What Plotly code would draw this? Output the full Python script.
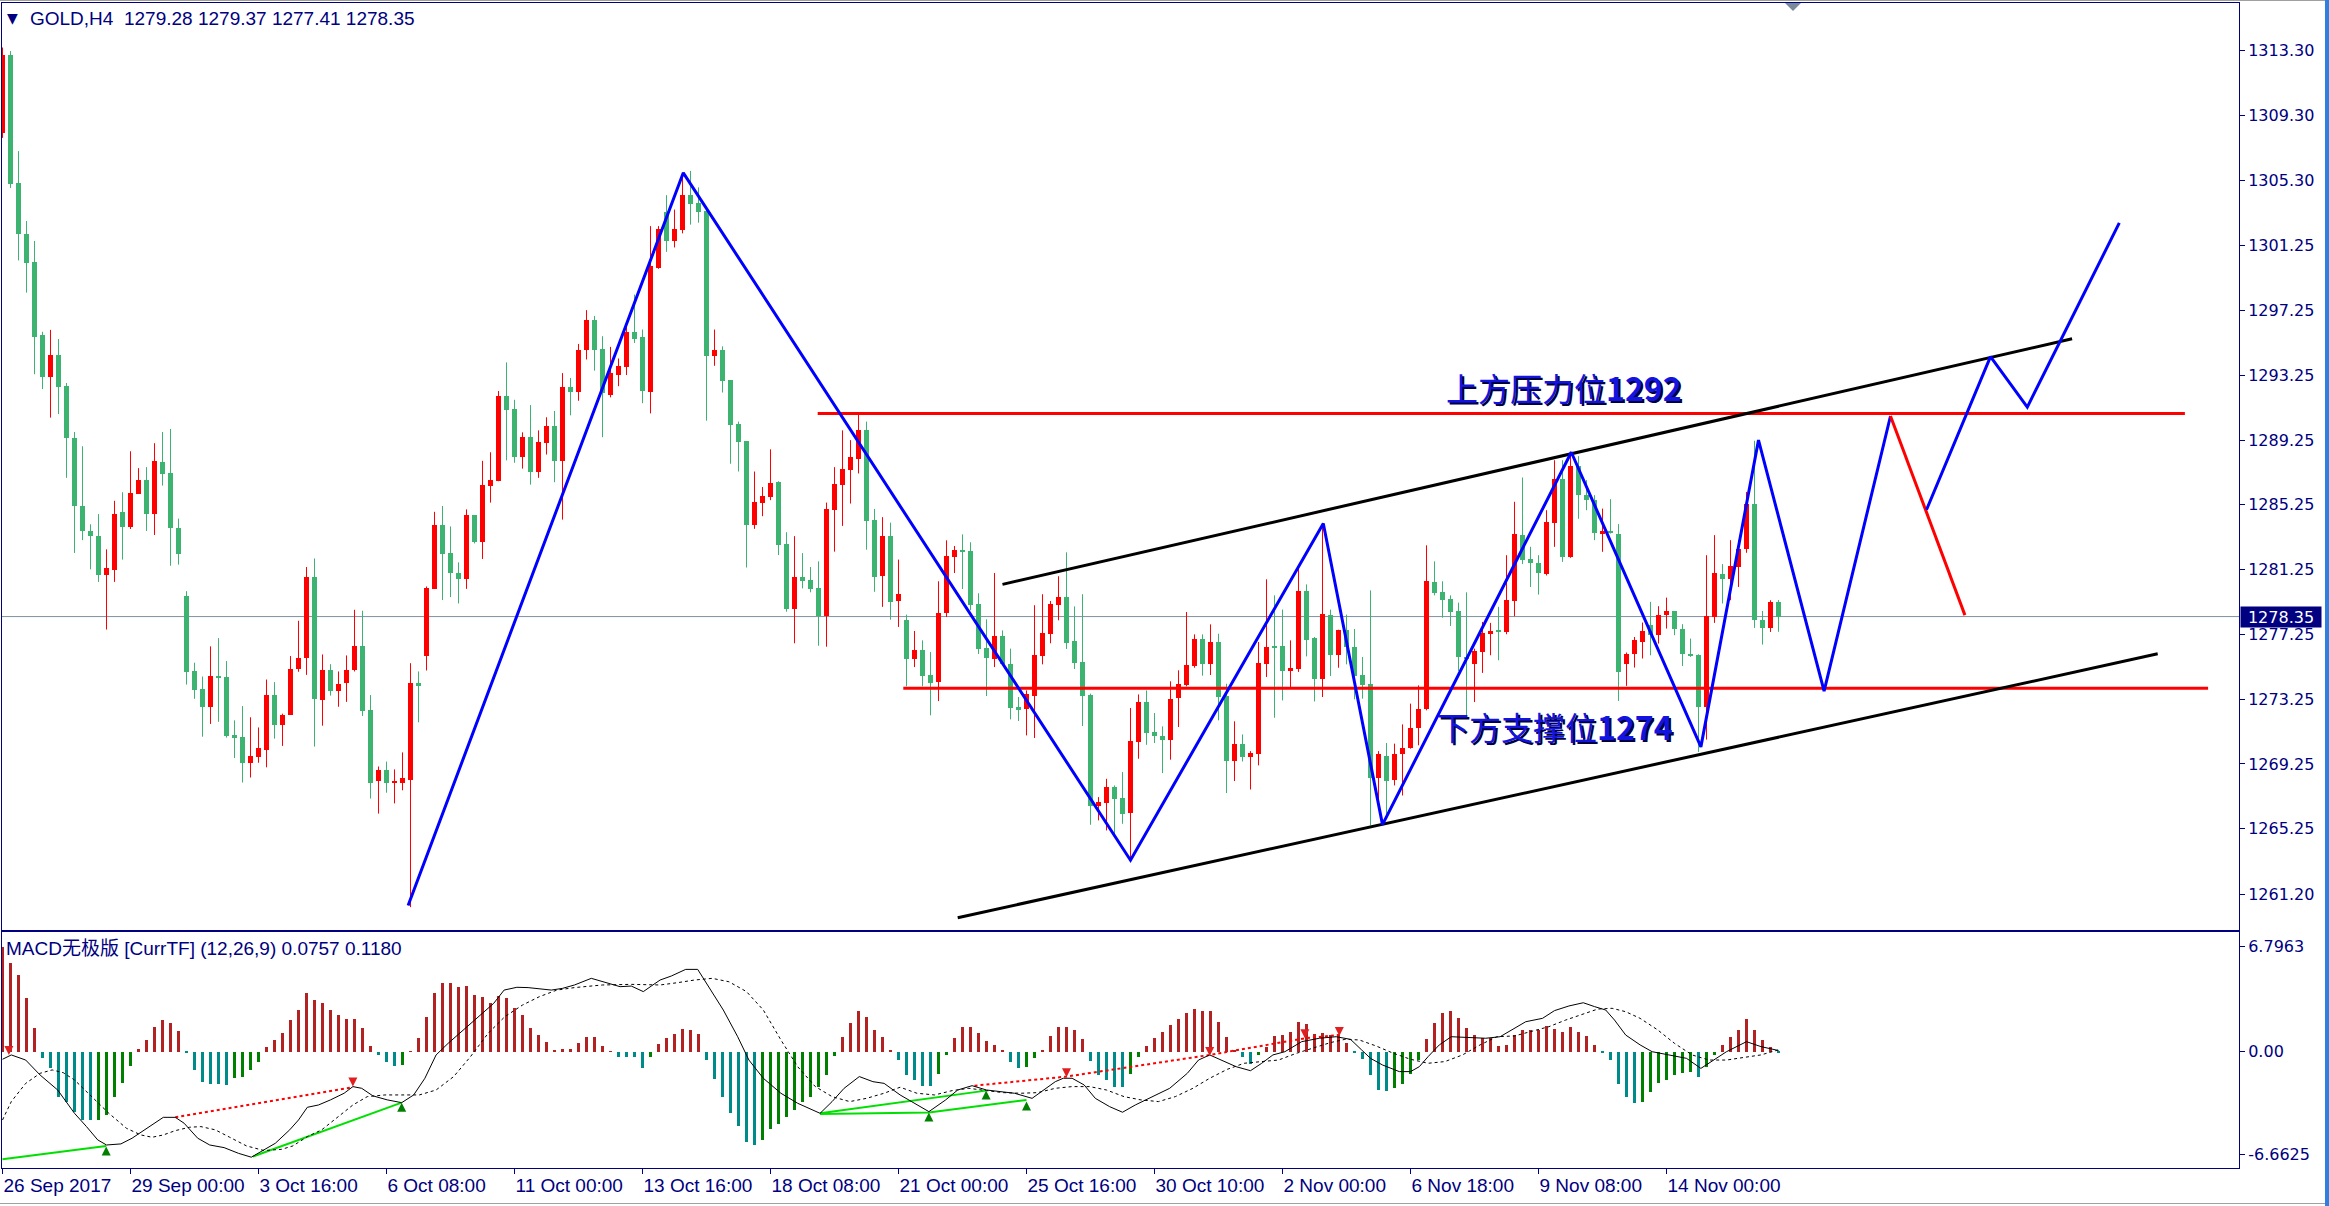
import plotly.graph_objects as go

# ---------------- data ----------------
bar_index = list(range(223))

opens = [
    1308.20, 1313.02, 1305.14, 1301.99, 1300.25, 1295.75, 1293.13, 1294.52, 1292.59, 1289.38,
    1285.21, 1283.64, 1283.32, 1280.93, 1281.24, 1284.81, 1283.86, 1285.94, 1286.79, 1284.71,
    1287.89, 1287.20, 1283.83, 1279.60, 1274.97, 1273.87, 1272.79, 1274.59, 1274.59, 1271.03,
    1270.90, 1269.32, 1269.70, 1270.11, 1273.49, 1271.66, 1272.29, 1275.12, 1275.77, 1280.78,
    1273.20, 1275.02, 1273.77, 1274.24, 1275.02, 1276.52, 1272.57, 1268.19, 1268.85, 1268.07,
    1268.07, 1268.28, 1274.22, 1275.92, 1280.06, 1283.98, 1282.27, 1281.07, 1280.69, 1284.61,
    1282.96, 1286.44, 1286.71, 1291.95, 1291.17, 1288.18, 1289.43, 1287.25, 1289.07, 1290.12,
    1287.97, 1292.52, 1292.25, 1294.80, 1296.65, 1294.86, 1292.04, 1293.30, 1293.78, 1295.93,
    1295.60, 1292.25, 1299.89, 1303.34, 1301.57, 1302.23, 1304.41, 1303.87, 1303.43, 1294.47,
    1294.80, 1292.94, 1290.24, 1289.19, 1284.01, 1285.39, 1285.72, 1286.65, 1282.81, 1278.80,
    1280.78, 1280.60, 1280.09, 1278.41, 1284.94, 1286.50, 1287.43, 1288.09, 1289.85, 1284.31,
    1280.87, 1283.33, 1279.31, 1278.12, 1275.73, 1276.26, 1274.72, 1274.31, 1278.57, 1282.03,
    1282.44, 1282.38, 1279.11, 1276.39, 1275.75, 1277.13, 1275.40, 1272.74, 1272.64, 1273.44,
    1275.91, 1277.25, 1279.07, 1279.54, 1276.82, 1275.52, 1273.48, 1266.64, 1266.83, 1267.82,
    1267.14, 1266.21, 1270.60, 1273.05, 1271.20, 1270.95, 1270.74, 1273.32, 1274.10, 1275.28,
    1276.94, 1275.42, 1276.76, 1273.42, 1269.43, 1270.45, 1269.67, 1269.84, 1275.44, 1276.45,
    1276.51, 1275.01, 1275.11, 1279.91, 1277.03, 1274.49, 1278.47, 1275.96, 1277.50, 1276.47,
    1274.72, 1274.16, 1268.37, 1269.71, 1268.23, 1269.88, 1270.25, 1271.49, 1272.66, 1280.47,
    1279.85, 1279.42, 1278.67, 1275.85, 1275.45, 1276.17, 1277.30, 1277.47, 1277.40, 1279.32,
    1283.42, 1281.93, 1281.69, 1281.01, 1284.14, 1286.84, 1282.04, 1287.66, 1285.89, 1285.58,
    1283.48, 1283.62, 1283.48, 1275.45, 1276.02, 1276.79, 1277.81, 1277.20, 1278.47, 1278.68,
    1277.59, 1276.06, 1275.96, 1272.77, 1278.33, 1281.01, 1280.70, 1281.42, 1282.55, 1285.29,
    1278.16, 1277.65, 1279.28,
]
highs = [
    1313.50, 1313.28, 1307.10, 1302.78, 1301.55, 1295.94, 1296.06, 1295.49, 1292.78, 1289.75,
    1288.87, 1284.05, 1284.68, 1282.50, 1285.50, 1286.03, 1288.56, 1287.52, 1287.58, 1289.06,
    1289.75, 1289.94, 1284.40, 1279.92, 1275.50, 1274.65, 1276.51, 1277.02, 1275.60, 1271.94,
    1272.82, 1272.13, 1271.50, 1274.46, 1274.30, 1272.35, 1275.91, 1278.09, 1281.41, 1281.94,
    1276.01, 1275.41, 1274.96, 1275.95, 1278.77, 1278.71, 1273.50, 1269.09, 1269.39, 1268.91,
    1269.96, 1275.47, 1274.96, 1280.21, 1284.82, 1285.18, 1283.92, 1281.70, 1284.97, 1284.61,
    1287.97, 1288.50, 1292.28, 1294.05, 1291.74, 1289.73, 1291.41, 1289.85, 1290.66, 1291.05,
    1293.39, 1293.09, 1295.19, 1297.28, 1296.92, 1295.67, 1295.01, 1294.29, 1296.23, 1298.24,
    1296.08, 1302.47, 1302.47, 1304.38, 1303.49, 1305.76, 1305.88, 1304.86, 1303.58, 1296.08,
    1295.04, 1292.94, 1290.39, 1289.19, 1287.31, 1286.35, 1288.68, 1286.71, 1283.56, 1283.32,
    1282.27, 1281.41, 1281.76, 1285.39, 1287.58, 1289.85, 1289.25, 1290.84, 1290.39, 1285.00,
    1284.49, 1284.15, 1281.87, 1278.47, 1277.46, 1276.88, 1276.16, 1280.53, 1283.06, 1282.71,
    1283.43, 1282.94, 1279.79, 1278.18, 1281.04, 1277.50, 1276.37, 1273.38, 1273.79, 1279.05,
    1279.73, 1279.31, 1280.84, 1282.32, 1278.98, 1279.73, 1273.59, 1267.20, 1268.33, 1267.92,
    1268.75, 1272.70, 1273.54, 1273.79, 1272.39, 1271.57, 1274.35, 1275.03, 1278.63, 1277.25,
    1277.25, 1277.87, 1277.29, 1274.20, 1271.88, 1271.07, 1270.04, 1276.78, 1280.65, 1279.66,
    1278.78, 1276.88, 1281.35, 1280.34, 1277.09, 1284.09, 1278.78, 1277.54, 1278.47, 1277.58,
    1275.85, 1279.97, 1270.04, 1270.54, 1270.50, 1271.69, 1272.97, 1274.10, 1282.75, 1281.76,
    1280.53, 1279.66, 1279.21, 1279.85, 1276.37, 1278.02, 1277.96, 1278.95, 1282.14, 1285.44,
    1286.94, 1282.66, 1282.14, 1284.92, 1288.01, 1288.01, 1288.53, 1288.26, 1286.78, 1285.85,
    1285.02, 1285.60, 1284.06, 1276.13, 1277.09, 1277.98, 1279.26, 1278.99, 1279.52, 1278.68,
    1277.88, 1276.99, 1276.02, 1282.14, 1283.38, 1281.59, 1283.07, 1283.07, 1286.05, 1289.21,
    1278.70, 1279.36, 1279.37,
]
lows = [
    1307.92, 1304.83, 1300.35, 1298.36, 1293.32, 1292.40, 1290.64, 1290.86, 1286.92, 1282.28,
    1283.07, 1281.27, 1280.49, 1277.55, 1280.49, 1281.87, 1283.76, 1285.94, 1283.64, 1283.39,
    1286.44, 1281.49, 1281.56, 1274.15, 1273.27, 1270.93, 1271.72, 1271.85, 1270.87, 1269.61,
    1268.10, 1268.41, 1269.32, 1269.04, 1270.81, 1270.36, 1272.29, 1274.94, 1274.75, 1270.32,
    1271.61, 1273.47, 1272.78, 1273.08, 1274.96, 1272.21, 1267.11, 1266.18, 1267.47, 1266.81,
    1267.62, 1260.40, 1271.82, 1275.02, 1280.06, 1279.37, 1279.55, 1279.16, 1280.06, 1282.87,
    1281.91, 1285.39, 1286.71, 1288.00, 1287.85, 1287.49, 1286.50, 1286.92, 1288.36, 1286.65,
    1284.34, 1290.78, 1291.68, 1294.23, 1293.54, 1289.43, 1291.89, 1292.58, 1293.27, 1295.25,
    1291.53, 1290.90, 1299.83, 1300.88, 1301.15, 1302.02, 1302.56, 1302.68, 1290.45, 1293.84,
    1292.19, 1287.79, 1287.31, 1281.38, 1283.77, 1284.55, 1285.54, 1282.15, 1278.65, 1276.70,
    1280.09, 1279.85, 1276.55, 1276.49, 1282.36, 1283.95, 1285.33, 1287.19, 1282.48, 1279.88,
    1278.95, 1278.16, 1277.71, 1274.04, 1275.23, 1274.04, 1272.25, 1273.13, 1278.32, 1281.04,
    1280.05, 1278.74, 1276.04, 1273.44, 1275.23, 1275.34, 1272.00, 1271.90, 1271.01, 1270.85,
    1275.40, 1276.70, 1278.12, 1276.35, 1275.11, 1271.59, 1265.49, 1265.76, 1265.14, 1264.83,
    1265.55, 1263.29, 1269.57, 1270.43, 1270.54, 1268.68, 1269.51, 1271.53, 1274.04, 1275.19,
    1274.70, 1274.74, 1271.94, 1267.45, 1268.19, 1269.40, 1267.67, 1269.16, 1274.62, 1272.10,
    1273.17, 1274.00, 1274.93, 1275.89, 1273.11, 1273.38, 1274.68, 1275.19, 1275.40, 1273.24,
    1273.28, 1265.45, 1267.04, 1266.07, 1267.92, 1267.30, 1270.19, 1270.40, 1272.56, 1279.66,
    1278.28, 1277.77, 1274.99, 1272.14, 1273.07, 1274.87, 1275.96, 1275.65, 1277.26, 1278.37,
    1281.59, 1280.18, 1279.71, 1280.89, 1282.66, 1281.73, 1281.98, 1284.39, 1284.92, 1283.07,
    1282.35, 1283.48, 1273.14, 1274.07, 1275.20, 1275.76, 1275.96, 1276.68, 1277.61, 1277.20,
    1275.30, 1275.86, 1269.99, 1270.75, 1277.96, 1279.16, 1279.36, 1280.18, 1282.29, 1277.65,
    1276.62, 1277.40, 1277.41,
]
closes = [
    1313.02, 1305.08, 1301.96, 1300.16, 1295.65, 1293.13, 1294.52, 1292.56, 1289.35, 1285.21,
    1283.61, 1283.35, 1280.93, 1281.34, 1284.71, 1283.86, 1285.97, 1286.79, 1284.71, 1287.96,
    1287.17, 1283.80, 1282.19, 1274.94, 1273.83, 1272.79, 1274.65, 1274.56, 1270.99, 1270.87,
    1269.32, 1269.73, 1270.21, 1273.49, 1271.66, 1272.26, 1275.09, 1275.81, 1280.78, 1273.26,
    1275.02, 1273.77, 1274.21, 1275.08, 1276.52, 1272.51, 1268.10, 1268.85, 1268.07, 1268.13,
    1268.40, 1274.22, 1274.04, 1280.09, 1283.98, 1282.21, 1281.04, 1280.69, 1284.61, 1282.93,
    1286.50, 1286.77, 1291.95, 1291.14, 1288.18, 1289.43, 1287.28, 1289.13, 1290.12, 1287.97,
    1292.52, 1292.25, 1294.80, 1296.65, 1294.83, 1292.13, 1293.39, 1293.81, 1295.93, 1295.48,
    1292.31, 1299.98, 1302.29, 1301.57, 1302.29, 1304.38, 1303.81, 1303.37, 1294.47, 1294.80,
    1292.91, 1290.21, 1289.16, 1284.01, 1285.42, 1285.81, 1286.59, 1282.75, 1278.80, 1280.81,
    1280.54, 1280.03, 1278.41, 1284.97, 1286.53, 1287.46, 1288.18, 1289.85, 1284.28, 1280.81,
    1283.32, 1279.25, 1279.77, 1275.73, 1276.26, 1274.68, 1274.25, 1278.59, 1282.07, 1282.44,
    1282.34, 1279.09, 1276.35, 1275.79, 1277.13, 1275.40, 1272.70, 1272.64, 1273.55, 1275.96,
    1277.33, 1279.11, 1279.54, 1276.72, 1275.48, 1273.44, 1266.64, 1266.87, 1267.82, 1267.08,
    1266.17, 1270.64, 1273.05, 1271.18, 1270.99, 1270.74, 1273.28, 1274.16, 1275.34, 1276.94,
    1275.42, 1276.76, 1273.38, 1269.43, 1270.45, 1269.67, 1269.92, 1275.48, 1276.47, 1276.41,
    1274.99, 1275.17, 1279.91, 1276.92, 1274.49, 1278.53, 1275.96, 1277.50, 1276.47, 1274.70,
    1274.10, 1268.37, 1269.84, 1268.19, 1269.88, 1270.25, 1271.49, 1272.66, 1280.53, 1279.81,
    1279.35, 1278.63, 1275.85, 1275.70, 1276.23, 1277.34, 1277.47, 1277.42, 1279.36, 1283.48,
    1281.87, 1281.67, 1281.05, 1284.18, 1286.84, 1282.04, 1287.66, 1285.85, 1285.54, 1283.52,
    1283.62, 1283.52, 1274.93, 1276.02, 1276.89, 1277.44, 1277.20, 1278.47, 1278.68, 1277.59,
    1276.06, 1275.96, 1272.77, 1278.37, 1281.07, 1280.70, 1281.46, 1282.55, 1285.29, 1278.16,
    1277.65, 1279.26, 1278.35,
]

macd_hist = [
    6.79, 5.72, 4.96, 3.45, 1.51, -0.43, -1.08, -2.91, -3.23, -3.88, -4.42, -4.45, -4.40, -4.10, -2.95, -2.00, -0.95,
    0.15, 0.76, 1.58, 2.05, 1.84, 1.34, -0.11, -1.18, -1.94, -2.09, -2.12, -2.15, -1.72, -1.61, -1.18, -0.69,
    0.33, 0.76, 1.19, 2.05, 2.70, 3.82, 3.35, 3.13, 2.70, 2.38, 2.10, 2.10, 1.51, 0.37, -0.22, -0.64, -0.91, -0.85,
    0.04, 0.87, 2.23, 3.78, 4.47, 4.47, 4.21, 4.27, 3.67, 3.56, 3.13, 3.61, 3.45, 2.85, 2.38, 1.51, 1.08, 0.65,
    0.07, 0.17, 0.17, 0.54, 0.93, 0.93, 0.37, 0.02,
    -0.32, -0.33, -0.34, -1.04, -0.32,
    0.50, 0.87, 1.15, 1.45, 1.41, 1.15,
    -0.54, -1.79, -2.91, -3.99, -4.81, -5.82, -6.04, -5.71, -5.02, -4.68, -4.20, -3.77, -3.23, -2.91, -2.26, -1.51, -0.28,
    0.93, 1.84, 2.64, 2.23, 1.41, 0.97, 0.11,
    -0.54,
    -1.51, -1.83, -2.20, -2.22, -1.44, -0.21,
    0.87, 1.58, 1.62, 1.19, 0.72, 0.44, 0.05,
    -0.64, -1.03, -1.00, -0.43,
    0.11, 1.02, 1.58, 1.58, 1.41, 0.82,
    -0.58, -1.51, -1.83, -2.26, -2.30, -1.44, -0.32,
    0.37, 0.91, 1.25, 1.73, 2.12, 2.48, 2.76, 2.66, 2.66, 1.95, 0.97, 0.05,
    -0.32, -0.79, -0.21,
    0.33, 1.02, 1.08, 1.30, 1.95, 1.79, 1.15, 1.19, 1.08, 1.15, 0.54,
    -0.02, -0.49, -1.51, -2.48, -2.52, -2.35, -2.10, -1.44, -0.54,
    0.80, 1.88, 2.48, 2.66, 2.16, 1.51, 1.08, 0.87, 0.87, 0.37, 0.44, 1.08, 1.41, 1.41, 1.41, 1.66, 1.45, 1.30, 1.58, 1.30, 1.02, 0.44,
    -0.04, -0.54, -2.09, -2.91, -3.30, -3.23, -2.59, -2.05, -1.83, -1.51, -1.36, -1.29, -1.66, -0.97, -0.21,
    0.44, 0.93, 1.41, 2.10, 1.41, 0.76, 0.33,
    -0.11,
]

# MACD main line (solid) and signal line (dotted), read at the bars where they were sampled
macd_line_bars = [0, 1.1, 2.9, 4.7, 6.9, 9.0, 10.5, 11.9, 13.0, 14.8, 16.2, 17.6, 19.1, 20.1, 21.6, 22.7,
                  24.4, 25.9, 27.7, 29.5, 31.1, 32.3, 34.1, 35.9, 37.0, 38.1, 39.5, 41.0, 42.7, 43.8,
                  44.9, 46.3, 48.1, 49.9, 51.4, 52.8, 54.2, 55.7, 57.1, 58.5, 60.0, 61.4, 62.7, 64.3,
                  65.7, 68.6, 70.0, 71.5, 73.6, 75.0, 77.2, 78.6, 80.1, 81.1, 82.2, 83.6, 85.4, 86.9,
                  88.3, 90.1, 91.9, 93.3, 95.1, 97.3, 99.4, 102.2, 103.7, 105.2, 107.1, 108.8, 110.2,
                  112.2, 115.8, 117.9, 119.4, 121.2, 123.0, 124.7, 126.5, 128.7, 130.1, 131.6, 132.6,
                  133.7, 135.2, 136.6, 138.4, 140.0, 141.6, 143.8, 145.9, 148.1, 149.5, 150.9, 152.4,
                  154.2, 156.0, 157.4, 158.8, 160.3, 162.4, 164.6, 166.7, 168.5, 169.9, 171.0, 172.5,
                  174.6, 176.0, 177.1, 178.2, 179.6, 181.1, 183.2, 185.4, 187.2, 189.0, 190.4, 192.5,
                  194.0, 195.8, 197.6, 199.0, 200.4, 201.5, 202.9, 204.7, 206.2, 208.3, 210.5, 212.3,
                  213.3, 215.5, 218.0, 219.8, 222.0]
macd_line_vals = [-0.49, -0.21, -0.54, -1.51, -2.48, -3.99, -4.85, -5.71, -6.04, -5.97, -5.60, -5.11, -4.63, -4.25, -4.25, -4.63,
                  -5.60, -6.04, -6.21, -6.58, -6.83, -6.47, -5.93, -5.06, -4.42, -3.60, -3.45, -3.12, -2.69, -2.26,
                  -2.37, -2.86, -3.12, -3.30, -2.80, -1.72, -0.21, 0.54, 1.19, 1.84, 2.48, 3.13, 3.99, 4.17,
                  4.15, 3.99, 4.10, 4.32, 4.75, 4.53, 4.21, 4.25, 3.89, 4.25, 4.64, 4.90, 5.33, 5.33,
                  4.21, 2.70, 0.97, -0.54, -1.72, -2.69, -3.34, -3.99, -3.23, -2.37, -1.61, -1.94, -2.05,
                  -2.80, -3.88, -3.12, -2.48, -2.20, -2.48, -2.58, -2.69, -3.02, -2.48, -1.94, -1.72,
                  -1.72, -2.15, -3.02, -3.56, -3.92, -3.45, -2.91, -2.37, -1.40, -0.54, -0.21, -0.54,
                  -0.97, -1.23, -0.75, -0.21, 0.00, 0.65, 0.87, 0.97, 0.80, 0.11, -0.43, -0.86,
                  -1.29, -1.29, -0.97, -0.32, 0.44, 0.97, 0.93, 0.87, 0.97, 1.51, 1.94, 2.16,
                  2.66, 2.96, 3.17, 2.92, 2.70, 2.05, 1.08, 0.44, 0.00, -0.21, -0.43, -1.08,
                  -0.75, 0.00, 0.65, 0.33, 0.0757]
signal_line_bars = [0, 1.1, 2.9, 4.7, 6.2, 7.6, 9.0, 11.2, 13.3, 15.5, 17.3, 18.7, 20.1, 21.6, 23.4, 24.8,
                    26.6, 28.4, 30.5, 32.7, 34.9, 36.3, 38.1, 39.9, 42.0, 43.8, 45.6, 47.8, 49.9, 52.1,
                    54.2, 56.4, 58.5, 60.7, 62.8, 65.0, 67.1, 69.3, 71.5, 75.0, 78.6, 82.2, 84.4, 86.5,
                    88.7, 90.8, 93.0, 95.1, 97.3, 99.4, 101.6, 103.7, 105.9, 108.0, 110.2, 112.2, 114.3,
                    116.5, 118.7, 120.8, 123.0, 125.1, 127.3, 129.4, 131.6, 133.7, 135.9, 138.0, 140.2,
                    142.3, 144.5, 146.6, 148.8, 150.9, 153.1, 155.2, 157.4, 159.5, 161.7, 163.8, 166.0,
                    167.8, 169.6, 171.7, 173.9, 176.0, 178.2, 180.3, 182.5, 184.7, 186.8, 189.0, 191.1,
                    193.3, 195.4, 197.6, 199.4, 201.2, 202.9, 204.7, 206.9, 209.0, 211.2, 213.3, 215.5,
                    217.7, 219.8, 222.0]
signal_line_vals = [-4.42, -3.23, -2.05, -1.40, -1.18, -1.36, -1.83, -2.91, -3.99, -4.96, -5.39, -5.54, -5.39, -5.11, -4.89, -4.85,
                    -5.06, -5.54, -6.10, -6.40, -6.32, -6.10, -5.50, -5.06, -4.20, -3.45, -2.91, -2.80, -2.80, -2.80,
                    -2.48, -1.61, -0.32, 1.19, 2.27, 3.02, 3.56, 3.99, 4.15, 4.32, 4.36, 4.32, 4.47, 4.64,
                    4.75, 4.53, 3.89, 2.70, 0.76, -0.97, -2.26, -2.91, -3.23, -3.02, -2.69, -2.30, -2.69,
                    -2.80, -2.52, -2.37, -2.52, -2.65, -2.69, -2.65, -2.37, -2.26, -2.26, -2.48, -2.91,
                    -3.12, -3.23, -2.91, -2.37, -1.72, -1.14, -0.75, -0.64, -0.54, -0.11, 0.22, 0.59,
                    0.80, 0.76, 0.37, -0.11, -0.49, -0.75, -0.64, -0.21, 0.44, 0.97, 1.02, 1.30,
                    1.62, 2.05, 2.44, 2.76, 2.81, 2.59, 2.16, 1.41, 0.54, -0.21, -0.54, -0.54,
                    -0.37, -0.21, 0.1180]

# divergence marks in the MACD window
bull_div_lines = [([0, 12.96], [-6.96, -6.10]),
                  ([31.3, 49.9], [-6.79, -3.30]),
                  ([102.2, 122.95], [-3.99, -2.52]),
                  ([102.2, 115.8, 128.0], [-4.03, -3.94, -3.12])]
bear_div_lines = [([21.6, 43.8], [-4.25, -2.30]),
                  ([121.5, 133.0, 150.9, 162.8, 167.1], [-2.20, -1.61, -0.21, 0.87, 1.08])]
up_arrow_bars = [12.96, 49.9, 122.95, 115.8, 128.0]
up_arrow_vals = [-6.14, -3.30, -2.52, -3.94, -3.23]
down_arrow_bars = [0.8, 43.8, 133.0, 150.9, 162.8, 167.1]
down_arrow_vals = [-0.21, -2.26, -1.66, -0.28, 0.87, 1.02]

# hand-drawn analysis objects (bar position, price)
zigzag_bars = [50.7, 85.1, 141.0, 165.1, 172.5, 196.1, 212.3, 219.5, 227.7, 236.0]
zigzag_prices = [1260.5, 1305.76, 1263.3, 1284.1, 1265.5, 1288.5, 1270.3, 1289.25, 1273.75, 1290.74]
alt_path_bars = [236.0, 245.3]
alt_path_prices = [1290.74, 1278.44]
bull_path_bars = [240.5, 248.5, 253.1, 264.6]
bull_path_prices = [1284.95, 1294.41, 1291.29, 1302.67]
channel_top_bars = [125.0, 258.7]
channel_top_prices = [1280.34, 1295.51]
channel_bottom_bars = [119.4, 269.4]
channel_bottom_prices = [1259.75, 1276.05]
resistance_bars = [101.9, 272.8]
resistance_price = 1290.90
support_bars = [112.6, 275.7]
support_price = 1273.92
resistance_label = "上方压力位"
resistance_value = "1292"
support_label = "下方支撑位"
support_value = "1274"

price_ticks = [1313.30, 1309.30, 1305.30, 1301.25, 1297.25, 1293.25, 1289.25, 1285.25,
               1281.25, 1277.25, 1273.25, 1269.25, 1265.25, 1261.20]
macd_ticks = [6.7963, 0.0, -6.6625]
macd_tick_text = ["6.7963", "0.00", "-6.6625"]
date_tick_bars = [0, 16, 32, 48, 64, 80, 96, 112, 128, 144, 160, 176, 192, 208]
date_tick_labels = ["26 Sep 2017", "29 Sep 00:00", "3 Oct 16:00", "6 Oct 08:00", "11 Oct 00:00",
                    "13 Oct 16:00", "18 Oct 08:00", "21 Oct 00:00", "25 Oct 16:00", "30 Oct 10:00",
                    "2 Nov 00:00", "6 Nov 18:00", "9 Nov 08:00", "14 Nov 00:00"]
symbol = "GOLD,H4"
macd_title = "MACD无极版 [CurrTF] (12,26,9)"

assert len(opens) == len(highs) == len(lows) == len(closes) == len(macd_hist) == len(bar_index)
assert len(macd_line_bars) == len(macd_line_vals)
assert len(signal_line_bars) == len(signal_line_vals)

# ---------------- styling ----------------
W, H = 2329, 1206
ML, MR, MT, MB = 2, 90, 3, 38
PW, PH = W - ML - MR, H - MT - MB
NAVY = "#000080"
UP = "#FF0000"
DOWN = "#3CB371"
FONT = "Liberation Sans, Arial, sans-serif"
AXFONT = "DejaVu Sans, Verdana, sans-serif"
CJK = "Noto Sans CJK SC"


def px_x(px):
    return (px - ML) / PW


def px_y(py):
    return (H - MB - py) / PH


main_dom = [px_y(930), 1.0]
macd_dom = [0.0, px_y(932)]
x_range = [-0.0625, -0.0625 + PW / 8.0]

fig = go.Figure()

# candle wicks and bodies
for is_up, col in ((True, UP), (False, DOWN)):
    wx, wy, bx, bb, bh = [], [], [], [], []
    for i, o, h, l, c in zip(bar_index, opens, highs, lows, closes):
        if (c >= o) != is_up:
            continue
        wx += [i, i, None]
        wy += [l, h, None]
        lo, hi = min(o, c), max(o, c)
        bx.append(i)
        bb.append(lo)
        bh.append(max(hi - lo, 0.07))
    fig.add_trace(go.Scatter(x=wx, y=wy, mode="lines", line=dict(color=col, width=1),
                             hoverinfo="skip", showlegend=False, xaxis="x", yaxis="y"))
    fig.add_trace(go.Bar(x=bx, y=bh, base=bb, width=0.625, marker=dict(color=col, line=dict(width=0)),
                         showlegend=False, xaxis="x", yaxis="y"))


# drawings on the price chart
def add_line(xs, ys, color, width=3, dash="solid"):
    fig.add_trace(go.Scatter(x=xs, y=ys, mode="lines", line=dict(color=color, width=width, dash=dash),
                             hoverinfo="skip", showlegend=False, xaxis="x", yaxis="y"))


add_line(resistance_bars, [resistance_price] * 2, "#FF0000")
add_line(support_bars, [support_price] * 2, "#FF0000")
add_line(channel_top_bars, channel_top_prices, "#000000")
add_line(channel_bottom_bars, channel_bottom_prices, "#000000")
add_line(zigzag_bars, zigzag_prices, "#0000FF")
add_line(alt_path_bars, alt_path_prices, "#FF0000")
add_line(bull_path_bars, bull_path_prices, "#0000FF")

# MACD histogram
hist_colors = []
prev = None
for v in macd_hist:
    if v >= 0:
        hist_colors.append("#B22222")
    elif prev is not None and v >= prev:
        hist_colors.append("#008000")
    else:
        hist_colors.append("#008B8B")
    prev = v
fig.add_trace(go.Bar(x=bar_index, y=macd_hist, width=0.4, marker=dict(color=hist_colors, line=dict(width=0)),
                     showlegend=False, xaxis="x2", yaxis="y2"))

for xs, ys in bull_div_lines:
    fig.add_trace(go.Scatter(x=xs, y=ys, mode="lines", line=dict(color="#00E000", width=2),
                             showlegend=False, hoverinfo="skip", xaxis="x2", yaxis="y2"))
for xs, ys in bear_div_lines:
    fig.add_trace(go.Scatter(x=xs, y=ys, mode="lines", line=dict(color="#FF0000", width=2, dash="dot"),
                             showlegend=False, hoverinfo="skip", xaxis="x2", yaxis="y2"))

fig.add_trace(go.Scatter(x=signal_line_bars, y=signal_line_vals, mode="lines",
                         line=dict(color="#000000", width=1, dash="dot"),
                         showlegend=False, hoverinfo="skip", xaxis="x2", yaxis="y2"))
fig.add_trace(go.Scatter(x=macd_line_bars, y=macd_line_vals, mode="lines",
                         line=dict(color="#000000", width=1),
                         showlegend=False, hoverinfo="skip", xaxis="x2", yaxis="y2"))
fig.add_trace(go.Scatter(x=up_arrow_bars, y=up_arrow_vals, mode="markers",
                         marker=dict(symbol="arrow-up", size=9, color="#008000"),
                         showlegend=False, hoverinfo="skip", xaxis="x2", yaxis="y2"))
fig.add_trace(go.Scatter(x=down_arrow_bars, y=down_arrow_vals, mode="markers",
                         marker=dict(symbol="arrow-down", size=9, color="#E02020"),
                         showlegend=False, hoverinfo="skip", xaxis="x2", yaxis="y2"))

last_price = closes[-1]
p_range = [1258.99, 1316.25]
m_range = [-7.53, 7.75]

axis_common = dict(showgrid=False, zeroline=False, showline=True, mirror=True,
                   linecolor=NAVY, linewidth=1)

fig.update_layout(
    width=W, height=H,
    margin=dict(l=ML, r=MR, t=MT, b=MB, pad=0),
    paper_bgcolor="#FFFFFF", plot_bgcolor="#FFFFFF",
    barmode="overlay", bargap=0, showlegend=False,
    xaxis=dict(domain=[0, 1], anchor="y", range=x_range, showticklabels=False, ticks="",
               **axis_common),
    yaxis=dict(domain=main_dom, anchor="x", side="right", range=p_range,
               tickmode="array", tickvals=price_ticks, ticktext=[f"{v:.2f}" for v in price_ticks],
               ticks="outside", ticklen=5, tickcolor=NAVY,
               tickfont=dict(family=AXFONT, size=16, color=NAVY), **axis_common),
    xaxis2=dict(domain=[0, 1], anchor="y2", range=x_range, matches="x",
                tickmode="array", tickvals=date_tick_bars, ticktext=date_tick_labels,
                ticks="outside", ticklen=5, tickcolor=NAVY, ticklabelposition="outside right",
                tickfont=dict(family=FONT, size=19, color=NAVY), **axis_common),
    yaxis2=dict(domain=macd_dom, anchor="x2", side="right", range=m_range,
                tickmode="array", tickvals=macd_ticks, ticktext=macd_tick_text,
                ticks="outside", ticklen=5, tickcolor=NAVY,
                tickfont=dict(family=AXFONT, size=16, color=NAVY), **axis_common),
)

shapes = [
    # current price line
    dict(type="line", xref="x domain", yref="y", x0=0, x1=1, y0=last_price, y1=last_price,
         line=dict(color="#8090A0", width=1), layer="below"),
    # window frame bits
    dict(type="rect", xref="paper", yref="paper", x0=px_x(2325), x1=px_x(2330), y0=px_y(1206), y1=px_y(0),
         fillcolor="#2F7FE0", line=dict(width=0)),
    dict(type="line", xref="paper", yref="paper", x0=px_x(0), x1=px_x(2325), y0=px_y(0.5), y1=px_y(0.5),
         line=dict(color="#A0A0A0", width=1)),
    dict(type="line", xref="paper", yref="paper", x0=px_x(0), x1=px_x(2325), y0=px_y(1203.5), y1=px_y(1203.5),
         line=dict(color="#A0A0A0", width=1)),
    # chart-shift marker
    dict(type="path", xref="paper", yref="paper",
         path=f"M {px_x(1785)} {px_y(3)} L {px_x(1801)} {px_y(3)} L {px_x(1793)} {px_y(11)} Z",
         fillcolor="#7A8A9A", line=dict(width=0)),
]
fig.update_layout(shapes=shapes)

ann = [
    dict(xref="paper", yref="paper", x=px_x(5), y=px_y(18), xanchor="left", yanchor="middle",
         text="▼", showarrow=False, font=dict(family=AXFONT, size=14, color=NAVY)),
    dict(xref="paper", yref="paper", x=px_x(28), y=px_y(18), xanchor="left", yanchor="middle",
         text=f"{symbol}\u00a0\u00a0{opens[-1]:.2f} {highs[-1]:.2f} {lows[-1]:.2f} {closes[-1]:.2f}",
         showarrow=False, font=dict(family=FONT, size=19, color=NAVY)),
    dict(xref="paper", yref="paper", x=px_x(4), y=px_y(948), xanchor="left", yanchor="middle",
         text=f"{macd_title} {macd_line_vals[-1]:.4f} {signal_line_vals[-1]:.4f}",
         showarrow=False, font=dict(family=FONT + ", " + CJK, size=19, color=NAVY)),
]
# level labels with a dark drop shadow like the reference
for label, val, price, shift_y, x_px in ((resistance_label, resistance_value, resistance_price, 26, 1444),
                                          (support_label, support_value, support_price, -38, 1435)):
    for dx, dy, colr in ((1.5, -1.5, "#000040"), (0, 0, "#1414E0")):
        ann.append(dict(xref="paper", yref="y", x=px_x(x_px), y=price, xshift=dx, yshift=shift_y + dy,
                        xanchor="left", yanchor="middle", text=f"{label}<b>{val}</b>", showarrow=False,
                        font=dict(family=CJK, size=32, color=colr)))
ann.append(dict(xref="paper", yref="y", x=1.0, y=last_price, xanchor="left", yanchor="middle", xshift=1,
                text=f"{last_price:.2f}", showarrow=False, bgcolor=NAVY, width=80, height=20,
                font=dict(family=AXFONT, size=16, color="#FFFFFF"), borderpad=0))
fig.update_layout(annotations=ann)

fig.write_html("out.html")
